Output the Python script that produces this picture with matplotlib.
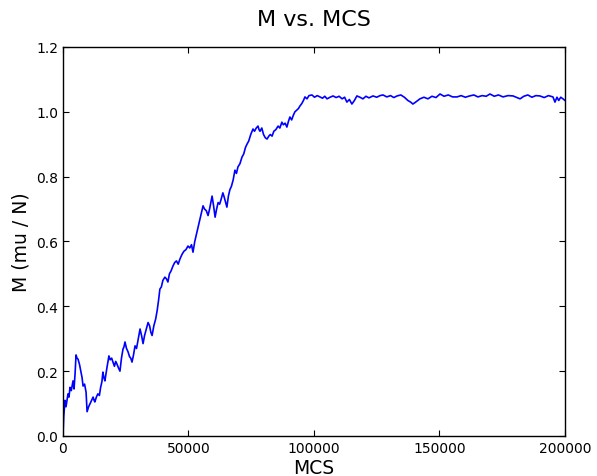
import matplotlib
matplotlib.use("Agg")
import matplotlib.pyplot as plt

# MCS steps and magnetisation (rows of 10 kept aligned)
mcs = [0, 300, 800, 1200, 2000, 2400, 2800, 3300, 4000, 4400,
       4800, 5200, 5600, 6000, 6600, 7200, 7600, 8000, 8600, 9200,
       9600, 10200, 10800, 11400, 12000, 12400, 12700, 13300, 13900, 14500,
       15000, 15500, 15900, 16300, 16700, 17500, 18300, 18800, 19400, 19900,
       20500, 21000, 21500, 22100, 22700, 23300, 23900, 24300, 24700, 25300,
       25900, 26500, 27000, 27500, 28100, 28700, 29300, 30000, 30700, 31300,
       31900, 32500, 33200, 33900, 34500, 35000, 35500, 36200, 36900, 37500,
       38100, 38600, 39200, 39800, 40600, 41200, 41800, 42400, 43100, 43800,
       44500, 45200, 45900, 46600, 47400, 48200, 49000, 49800, 50500, 51200,
       51800, 52500, 53400, 54000, 54600, 55200, 55800, 56400, 57100, 57800,
       58400, 58900, 59400, 60000, 60600, 61200, 61800, 62400, 63000, 63700,
       64300, 64800, 65300, 65900, 66500, 67100, 67800, 68500, 69100, 69700,
       70500, 71300, 72000, 72700, 73300, 74000, 74800, 75700, 76300, 77000,
       77700, 78100, 78500, 79200, 79900, 80600, 81300, 82000, 82600, 83300,
       84000, 84800, 85700, 86400, 87200, 87800, 88500, 89200, 89800, 90400,
       91100, 91800, 92400, 93100, 93800, 94400, 95100, 95800, 96400, 97200,
       98000, 99200, 100200, 101300, 102400, 103400, 104300, 105200, 106400, 107600,
       108800, 110000, 111200, 112200, 113100, 114100, 115100, 116100, 117100, 118300,
       119500, 120700, 121900, 123500, 125000, 126300, 127500, 129000, 130500, 131800,
       133100, 134600, 136000, 137400, 138500, 139400, 140500, 142200, 143800, 145400,
       147000, 148600, 150200, 151800, 153500, 155200, 157000, 158600, 160300, 162000,
       163700, 165300, 167000, 168600, 170100, 171800, 173500, 175300, 177300, 179300,
       180800, 182100, 183600, 185200, 186800, 188400, 190000, 191700, 193400, 195200,
       196000, 196800, 197500, 198300, 199200, 200000]
m = [0.00, 0.06, 0.11, 0.09, 0.13, 0.12, 0.15, 0.14, 0.17, 0.145,
     0.19, 0.25, 0.24, 0.237, 0.22, 0.197, 0.18, 0.154, 0.16, 0.135,
     0.075, 0.09, 0.10, 0.11, 0.12, 0.11, 0.105, 0.12, 0.13, 0.125,
     0.15, 0.167, 0.197, 0.18, 0.17, 0.21, 0.247, 0.235, 0.24, 0.228,
     0.215, 0.23, 0.222, 0.21, 0.20, 0.24, 0.268, 0.275, 0.29, 0.27,
     0.26, 0.245, 0.24, 0.228, 0.25, 0.278, 0.27, 0.30, 0.33, 0.31,
     0.285, 0.31, 0.33, 0.35, 0.34, 0.32, 0.31, 0.34, 0.36, 0.386,
     0.42, 0.453, 0.46, 0.48, 0.49, 0.485, 0.475, 0.50, 0.51, 0.524,
     0.535, 0.54, 0.53, 0.546, 0.56, 0.57, 0.575, 0.586, 0.58, 0.59,
     0.567, 0.60, 0.63, 0.65, 0.67, 0.69, 0.71, 0.70, 0.695, 0.68,
     0.70, 0.72, 0.74, 0.71, 0.675, 0.70, 0.72, 0.715, 0.73, 0.75,
     0.735, 0.72, 0.706, 0.74, 0.76, 0.77, 0.79, 0.82, 0.81, 0.83,
     0.84, 0.86, 0.87, 0.89, 0.90, 0.91, 0.93, 0.947, 0.94, 0.95,
     0.956, 0.945, 0.94, 0.95, 0.93, 0.92, 0.916, 0.925, 0.93, 0.925,
     0.94, 0.945, 0.956, 0.95, 0.968, 0.96, 0.965, 0.953, 0.97, 0.984,
     0.975, 0.99, 1.00, 1.005, 1.01, 1.018, 1.025, 1.035, 1.046, 1.04,
     1.05, 1.052, 1.045, 1.05, 1.046, 1.042, 1.048, 1.04, 1.045, 1.049,
     1.044, 1.048, 1.04, 1.045, 1.03, 1.038, 1.024, 1.035, 1.049, 1.045,
     1.04, 1.048, 1.043, 1.049, 1.045, 1.05, 1.052, 1.046, 1.05, 1.044,
     1.049, 1.052, 1.045, 1.035, 1.03, 1.024, 1.03, 1.04, 1.045, 1.04,
     1.048, 1.044, 1.055, 1.048, 1.052, 1.046, 1.046, 1.05, 1.045, 1.049,
     1.052, 1.046, 1.05, 1.048, 1.055, 1.048, 1.052, 1.046, 1.05, 1.049,
     1.044, 1.04, 1.048, 1.052, 1.045, 1.05, 1.049, 1.044, 1.05, 1.046,
     1.03, 1.045, 1.035, 1.045, 1.04, 1.035]

xticks = [0, 50000, 100000, 150000, 200000]
yticks = [0.0, 0.2, 0.4, 0.6, 0.8, 1.0, 1.2]

fig = plt.figure(figsize=(5.97, 4.77), dpi=100)
ax = fig.add_axes([0.1055, 0.0839, 0.8409, 0.8155])
ax.plot(mcs, m, color="b", linewidth=1.2)

ax.set_xlim(0, 200000)
ax.set_ylim(0, 1.2)
ax.set_xticks(xticks)
ax.set_xticklabels([str(t) for t in xticks])
ax.set_yticks(yticks)
ax.set_yticklabels(["%.1f" % t for t in yticks])
ax.tick_params(direction="in", top=True, right=True, length=4, labelsize=10)
for s in ax.spines.values():
    s.set_linewidth(1.0)

ax.set_title("M vs. MCS", fontsize=16, pad=16)
ax.set_xlabel("MCS", fontsize=13.5, labelpad=2)
ax.set_ylabel("M (mu / N)", fontsize=13.5)

fig.savefig("out.png", dpi=100)
